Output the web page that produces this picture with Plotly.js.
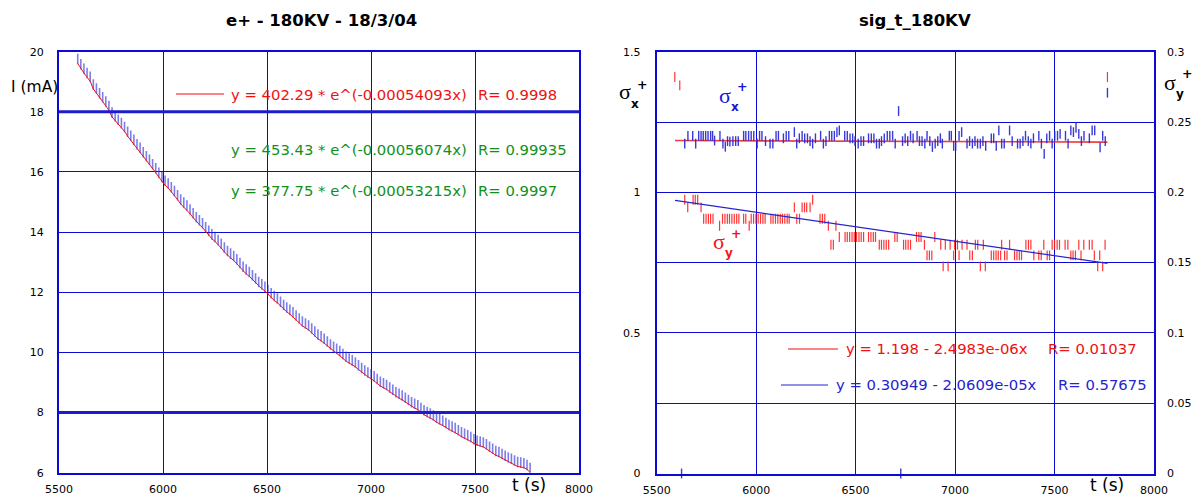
<!DOCTYPE html>
<html>
<head>
<meta charset="utf-8">
<script src="https://cdn.plot.ly/plotly-3.0.1.min.js"></script>
<style>html,body{margin:0;padding:0;background:#fff;}#chart{width:1199px;height:498px;}</style>
</head>
<body>
<div id="chart"></div>
<script>
// ---------- Left chart: beam current I (mA) vs time ----------
const timeI = [5590,5605,5620,5635,5650,5665,5680,5695,5710,5725,5740,5755,5770,5785,5800,5815,5830,5845,5860,5875,
5890,5905,5920,5935,5950,5965,5980,5995,6010,6025,6040,6055,6070,6085,6100,6115,6130,6145,6160,6175,
6190,6205,6220,6235,6250,6265,6280,6295,6310,6325,6340,6355,6370,6385,6400,6415,6430,6445,6460,6475,
6490,6505,6520,6535,6550,6565,6580,6595,6610,6625,6640,6655,6670,6685,6700,6715,6730,6745,6760,6775,
6790,6805,6820,6835,6850,6865,6880,6895,6910,6925,6940,6955,6970,6985,7000,7015,7030,7045,7060,7075,
7090,7105,7120,7135,7150,7165,7180,7195,7210,7225,7240,7255,7270,7285,7300,7315,7330,7345,7360,7375,
7390,7405,7420,7435,7450,7465,7480,7495,7510,7525,7540,7555,7570,7585,7600,7615,7630,7645,7660,7675,
7690,7705,7720,7735,7750,7765];
const currentI = [19.61,19.44,19.29,19.15,19.02,18.76,18.63,18.47,18.34,18.20,
18.05,17.83,17.71,17.59,17.48,17.35,17.19,17.06,16.93,16.78,
16.66,16.51,16.38,16.26,16.11,15.98,15.83,15.68,15.56,15.47,
15.35,15.22,15.08,14.94,14.84,14.74,14.61,14.48,14.35,14.25,
14.15,14.02,13.90,13.78,13.69,13.59,13.47,13.34,13.23,13.14,
13.06,12.95,12.83,12.70,12.61,12.53,12.42,12.31,12.20,12.12,
12.04,11.93,11.82,11.73,11.65,11.54,11.43,11.35,11.27,11.19,
11.08,10.98,10.88,10.82,10.75,10.65,10.55,10.45,10.39,10.31,
10.22,10.12,10.04,9.98,9.90,9.80,9.71,9.65,9.59,9.52,
9.43,9.34,9.25,9.19,9.13,9.06,8.97,8.88,8.83,8.77,
8.69,8.61,8.53,8.48,8.42,8.35,8.27,8.20,8.15,8.10,
8.01,7.93,7.87,7.82,7.76,7.68,7.63,7.58,7.51,7.44,
7.39,7.34,7.27,7.20,7.15,7.10,7.04,6.97,6.92,6.89,
6.86,6.80,6.72,6.65,6.58,6.54,6.48,6.42,6.36,6.32,
6.26,6.21,6.19,6.17,6.11,6.01];
const refLevels = [18, 8];
const fitTextsLeft = [
  ["y = 402.29 * e^(-0.00054093x)", "R= 0.9998", "red"],
  ["y = 453.43 * e^(-0.00056074x)", "R= 0.99935", "green"],
  ["y = 377.75 * e^(-0.00053215x)", "R= 0.9997", "green"]
];

// ---------- Right chart: sigma_x (left axis) and sigma_y (right axis) ----------
const sigxT = [5641,5657,5681,5696,5711,5723,5734,5746,5758,5771,5781,5791,5818,5833,5845,5856,5868,5883,5897,5910,
5937,5948,5962,5975,5988,6005,6017,6029,6047,6070,6084,6100,6112,6137,6151,6164,6192,6204,6217,6231,
6244,6258,6271,6284,6298,6324,6338,6351,6368,6380,6393,6406,6418,6445,6458,6472,6485,6497,6513,6527,
6540,6565,6579,6592,6605,6619,6630,6644,6659,6672,6686,6699,6736,6749,6762,6776,6789,6809,6821,6834,
6848,6859,6873,6886,6900,6913,6926,6936,6971,6981,6993,7003,7020,7033,7060,7073,7087,7100,7113,7127,
7140,7154,7182,7194,7207,7220,7234,7247,7274,7287,7314,7327,7341,7354,7368,7381,7394,7421,7434,7448,
7461,7475,7488,7501,7515,7528,7555,7568,7582,7595,7608,7622,7635,7648,7675,7689,7702,7729,7742,7755,
6716,7766,5625,6727];
const sigxV = [1.173,1.201,1.201,1.173,1.201,1.201,1.201,1.201,1.201,1.201,1.201,1.184,1.201,1.173,1.162,1.182,1.180,1.182,1.182,1.182,
1.201,1.201,1.201,1.201,1.201,1.173,1.201,1.201,1.182,1.173,1.173,1.201,1.201,1.192,1.201,1.201,1.214,1.173,1.192,1.201,
1.192,1.192,1.182,1.173,1.192,1.201,1.173,1.182,1.201,1.201,1.201,1.214,1.220,1.201,1.201,1.192,1.192,1.182,1.173,1.182,
1.182,1.192,1.192,1.192,1.173,1.173,1.182,1.192,1.201,1.201,1.201,1.173,1.182,1.192,1.182,1.201,1.192,1.201,1.182,1.182,
1.173,1.201,1.182,1.161,1.173,1.182,1.192,1.173,1.201,1.201,1.165,1.165,1.201,1.214,1.173,1.182,1.173,1.182,1.173,1.173,
1.182,1.165,1.192,1.192,1.165,1.220,1.173,1.173,1.220,1.182,1.173,1.173,1.182,1.201,1.182,1.173,1.192,1.201,1.173,1.137,
1.192,1.201,1.173,1.201,1.201,1.208,1.201,1.173,1.220,1.214,1.229,1.208,1.182,1.201,1.192,1.220,1.220,1.160,1.201,1.182,
1.289,1.354,0,0];

const sigyT = [5591,5616,7766,
5641,5683,5694,5706,6284,
5656,5723,6192,6231,6243,6254,6271,
5736,5748,5760,5771,5783,5831,5843,5855,5866,5878,5890,5902,5913,5937,5948,5975,5987,5999,6010,6022,6034,6045,
6074,6085,6097,6109,6121,6132,6144,6156,6166,6204,6218,6321,6333,6345,
5816,5965,6363,6401,
6418,6447,6458,6470,6482,6493,6505,6517,6528,6540,6565,6577,6589,6600,6697,6709,6806,6818,6829,6898,
6376,6388,6619,6630,6642,6654,6666,6741,6752,6764,6776,6846,6928,6951,6975,6998,7012,7035,7060,7102,
7114,7142,7234,7274,7356,7369,7381,7446,7488,7500,7513,7525,7553,7567,7622,7647,7675,7689,7754,
6859,6871,6883,6993,7020,7074,7087,7182,7194,7206,7217,7229,7249,7261,7299,7311,7323,7334,7396,7421,
7433,7463,7475,7582,7593,7605,7633,7700,7727,
6940,6965,7127,7152,7717,7742];
const sigyV = [0.282,0.276,0.282,
0.1947,0.1947,0.1947,0.1947,0.1947,
0.1893,0.1893,0.1893,0.1893,0.1893,0.1893,0.1893,
0.1812,0.1812,0.1812,0.1812,0.1812,0.1812,0.1812,0.1812,0.1812,0.1812,0.1812,0.1812,0.1812,0.1812,0.1812,0.1812,0.1812,0.1812,0.1812,0.1812,0.1812,0.1812,
0.1812,0.1812,0.1812,0.1812,0.1812,0.1812,0.1812,0.1812,0.1812,0.1812,0.1812,0.1812,0.1812,0.1812,
0.1762,0.1762,0.1762,0.1762,
0.1682,0.1682,0.1682,0.1682,0.1682,0.1682,0.1682,0.1682,0.1682,0.1682,0.1682,0.1682,0.1682,0.1682,0.1682,0.1682,0.1682,0.1682,0.1682,0.1682,
0.1627,0.1627,0.1627,0.1627,0.1627,0.1627,0.1627,0.1627,0.1627,0.1627,0.1627,0.1627,0.1627,0.1627,0.1627,0.1627,0.1627,0.1627,0.1627,0.1627,
0.1627,0.1627,0.1627,0.1627,0.1627,0.1627,0.1627,0.1627,0.1627,0.1627,0.1627,0.1627,0.1627,0.1627,0.1627,0.1627,0.1627,0.1627,0.1627,
0.1551,0.1551,0.1551,0.1551,0.1551,0.1551,0.1551,0.1551,0.1551,0.1551,0.1551,0.1551,0.1551,0.1551,0.1551,0.1551,0.1551,0.1551,0.1551,0.1551,
0.1551,0.1551,0.1551,0.1551,0.1551,0.1551,0.1551,0.1551,0.1551,
0.1473,0.1473,0.1473,0.1473,0.1473,0.1473];

// linear fits shown on the chart: [intercept, slope], drawn over this time span
const fitSpan = [5592, 7766];
const fitSigx = [1.198, -2.4983e-06];
const fitSigy = [0.30949, -2.0609e-05];
const fitTextsRight = [
  ["y = 1.198 - 2.4983e-06x", "R= 0.01037", "red"],
  ["y = 0.30949 - 2.0609e-05x", "R= 0.57675", "blue"]
];
const tickTimes = [5500, 6000, 6500, 7000, 7500, 8000];
const sigxTicks = [0, 0.25, 0.5, 0.75, 1, 1.25, 1.5];
const sigxTickText = ["0", "", "0.5", "", "1", "", "1.5"];

// ---------- styling ----------
const W = 1199, H = 498;
const PX = x => x / W, PY = y => 1 - y / H;
const BLUE = '#0a0ad2', RED = '#ee1111', GREEN = '#11901b', DARKBLUE = '#2525d0';
const COLORS = {red: RED, green: GREEN, blue: DARKBLUE};
const FONT = 'DejaVu Sans';

const traces = [
  {
    x: timeI, y: currentI, xaxis: 'x', yaxis: 'y', type: 'scatter', mode: 'lines',
    line: {color: RED, width: 1},
    error_y: {type: 'constant', symmetric: false, value: 0.32, valueminus: 0.03,
              width: 0, thickness: 1.6, color: 'rgba(40,40,220,0.6)'},
    hoverinfo: 'skip'
  },
  {
    x: fitSpan, y: fitSpan.map(t => fitSigx[0] + fitSigx[1] * t), xaxis: 'x2', yaxis: 'y2',
    type: 'scatter', mode: 'lines', line: {color: 'rgba(240,40,40,0.9)', width: 1.6}, hoverinfo: 'skip'
  },
  {
    x: sigxT, y: sigxV, xaxis: 'x2', yaxis: 'y2', type: 'scatter', mode: 'markers', cliponaxis: false,
    marker: {symbol: 'line-ns', size: 7, line: {width: 1.4, color: 'rgba(35,35,215,0.9)'}}, hoverinfo: 'skip'
  },
  {
    x: sigyT, y: sigyV, xaxis: 'x2', yaxis: 'y3', type: 'scatter', mode: 'markers',
    marker: {symbol: 'line-ns', size: 7, line: {width: 1.2, color: 'rgba(255,30,30,0.9)'}}, hoverinfo: 'skip'
  },
  {
    x: fitSpan, y: fitSpan.map(t => fitSigy[0] + fitSigy[1] * t), xaxis: 'x2', yaxis: 'y3',
    type: 'scatter', mode: 'lines', line: {color: DARKBLUE, width: 1.2}, hoverinfo: 'skip'
  }
];

const tickFont = {family: FONT, size: 11, color: '#000'};
const common = {
  showgrid: true, gridcolor: BLUE, gridwidth: 1, zeroline: false,
  showline: true, linecolor: BLUE, linewidth: 2, mirror: true,
  ticks: '', tickfont: tickFont, automargin: false, fixedrange: true
};
const yLeftDom = [PY(472.7), PY(51.7)];
const yRightDom = [PY(473.5), PY(51.7)];

const annotations = [];
function txt(text, x, y, size, color, xanchor, family, bold) {
  annotations.push({
    text: bold ? '<b>' + text + '</b>' : text, x: PX(x), y: PY(y), xref: 'paper', yref: 'paper',
    showarrow: false, xanchor: xanchor || 'center', yanchor: 'middle',
    font: {family: family || FONT, size: size, color: color || '#000'}
  });
}
// titles and axis labels
txt('e+ - 180KV - 18/3/04', 321, 21, 16.5, '#000', 'center', FONT, true);
txt('sig_t_180KV', 915, 21, 16.5, '#000', 'center', FONT, true);
txt('I (mA)', 9, 87, 15.5, '#000', 'left');
txt('t (s)', 529, 485, 17, '#000', 'center');
txt('t (s)', 1107, 485, 17, '#000', 'center');
// fit legends, left
const legLeftY = [94, 150, 190];
fitTextsLeft.forEach((f, i) => {
  txt(f[0], 229, legLeftY[i], 14.8, COLORS[f[2]], 'left');
  txt(f[1], 476, legLeftY[i], 14.8, COLORS[f[2]], 'left');
});
// fit legends, right
const legRightY = [348, 384];
const legRightX = [[844, 1046], [834, 1056]];
fitTextsRight.forEach((f, i) => {
  txt(f[0], legRightX[i][0], legRightY[i], 14.8, COLORS[f[2]], 'left');
  txt(f[1], legRightX[i][1], legRightY[i], 14.8, COLORS[f[2]], 'left');
});
// sigma symbols
function sigma(x, y, sub, color) {
  txt('σ', x, y, 22, color, 'center', 'Liberation Serif');
  txt(sub, x + 9.5, y + 12, 12, color, 'center', FONT, true);
  txt('+', x + 17, y - 8, 12.5, color, 'center', FONT, true);
}
sigma(625, 92, 'x', '#000');
sigma(1170, 82, 'y', '#000');
sigma(725, 95, 'x', '#1515d5');
sigma(719, 241, 'y', '#f01515');

const shapes = refLevels.map(v => ({
  type: 'line', xref: 'x', yref: 'y', x0: 5500, x1: 8000, y0: v, y1: v,
  line: {color: '#1c1ccc', width: 3}
}));
shapes.push({type: 'line', xref: 'paper', yref: 'paper', x0: PX(176), x1: PX(224), y0: PY(94), y1: PY(94), line: {color: RED, width: 1}});
shapes.push({type: 'line', xref: 'paper', yref: 'paper', x0: PX(788), x1: PX(838), y0: PY(349), y1: PY(349), line: {color: RED, width: 1}});
shapes.push({type: 'line', xref: 'paper', yref: 'paper', x0: PX(781), x1: PX(828), y0: PY(385), y1: PY(385), line: {color: DARKBLUE, width: 1}});

const layout = {
  width: W, height: H, margin: {l: 0, r: 0, t: 0, b: 0, pad: 0},
  paper_bgcolor: '#fff', plot_bgcolor: '#fff', showlegend: false,
  font: {family: FONT, size: 11, color: '#000'},
  xaxis: Object.assign({}, common, {domain: [PX(59), PX(579)], anchor: 'y', range: [5500, 8000],
    tickmode: 'array', tickvals: tickTimes, ticklabelstandoff: 5}),
  yaxis: Object.assign({}, common, {domain: yLeftDom, anchor: 'x', range: [6, 20],
    tick0: 6, dtick: 2, ticklabelstandoff: 11}),
  xaxis2: Object.assign({}, common, {domain: [PX(656.7), PX(1154)], anchor: 'y2', range: [5500, 8000],
    tickmode: 'array', tickvals: tickTimes, ticklabelstandoff: 5}),
  yaxis2: Object.assign({}, common, {domain: yRightDom, anchor: 'x2', range: [0, 1.5],
    tickmode: 'array', tickvals: sigxTicks, ticktext: sigxTickText, ticklabelstandoff: 12}),
  yaxis3: {overlaying: 'y2', anchor: 'x2', side: 'right', range: [0, 0.3], tick0: 0, dtick: 0.05,
    showgrid: false, zeroline: false, showline: false, ticks: '', tickfont: tickFont,
    automargin: false, fixedrange: true, ticklabelstandoff: 12},
  shapes: shapes,
  annotations: annotations
};

Plotly.newPlot('chart', traces, layout, {staticPlot: true, displayModeBar: false});
</script>
</body>
</html>
